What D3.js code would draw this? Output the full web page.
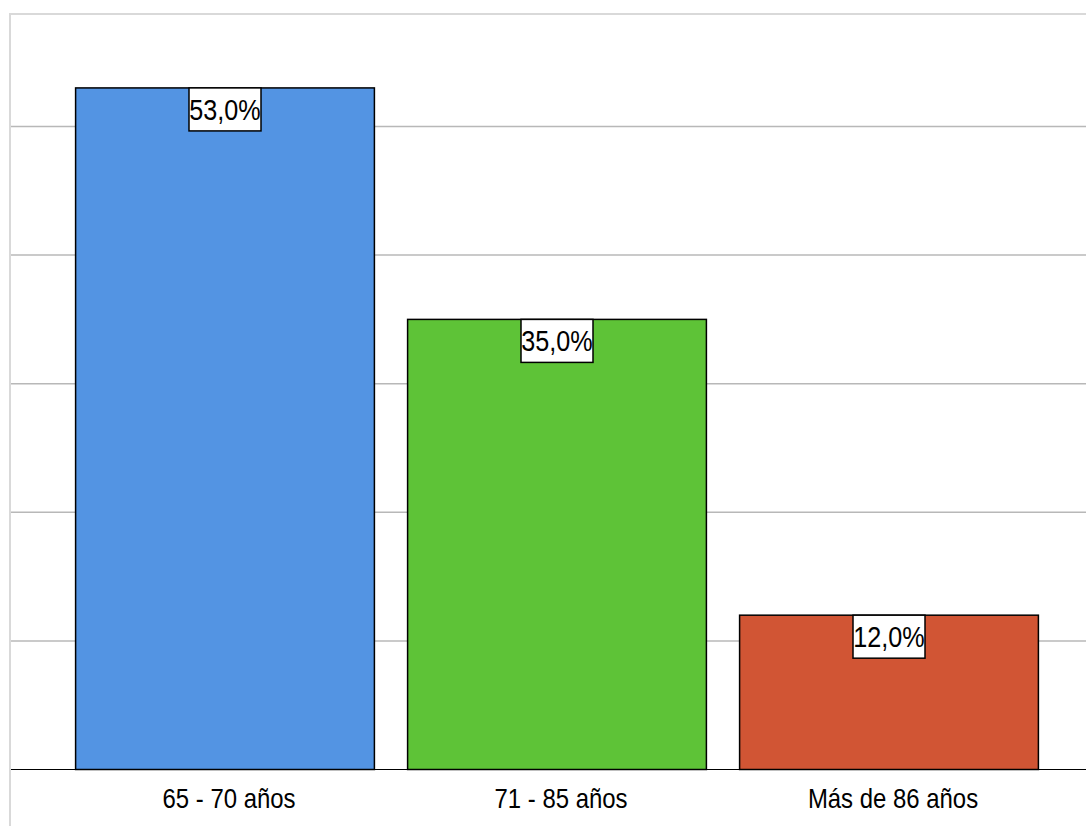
<!DOCTYPE html>
<html>
<head>
<meta charset="utf-8">
<script src="https://cdn.jsdelivr.net/npm/d3@7"></script>
<style>
  body { margin: 0; background: #fff; }
  svg { display: block; }
  text { font-family: "Liberation Sans", Arial, sans-serif; fill: #000; }
</style>
</head>
<body>
<svg></svg>
<script>
const categories = ['65 - 70 años', '71 - 85 años', 'Más de 86 años'];
const values = [53.0, 35.0, 12.0];
const colors = ['#5394e3', '#5ec337', '#d15534'];
const gridTicks = [10, 20, 30, 40, 50];

const width = 1086;
const height = 826;
const frame = { left: 10, top: 14 };
const narrow = 0.84; // no narrow font installed, squeeze horizontally

const svg = d3.select('svg')
  .attr('width', width)
  .attr('height', height);

const x = d3.scaleBand()
  .domain(categories)
  .range([59, 1055])
  .paddingInner(0.1)
  .paddingOuter(0.05);

const y = d3.scaleLinear()
  .domain([0, 50])
  .range([769.5, 126.5]);

const fmt = v => `${d3.format('.1f')(v).replace('.', ',')}%`;

// frame (left + top edges)
svg.append('path')
  .attr('d', `M${frame.left},${height} V${frame.top} H${width}`)
  .attr('fill', 'none')
  .attr('stroke', '#d9d9d9')
  .attr('stroke-width', 2);

// gridlines
svg.append('g').selectAll('line')
  .data(gridTicks)
  .enter().append('line')
    .attr('x1', frame.left + 1)
    .attr('x2', width)
    .attr('y1', d => y(d))
    .attr('y2', d => y(d))
    .attr('stroke', '#b8b8b8')
    .attr('stroke-width', 1.5);

// bars
svg.append('g').selectAll('rect')
  .data(values)
  .enter().append('rect')
    .attr('x', (d, i) => x(categories[i]))
    .attr('y', d => y(d))
    .attr('width', x.bandwidth())
    .attr('height', d => y(0) - y(d))
    .attr('fill', (d, i) => colors[i])
    .attr('stroke', '#000')
    .attr('stroke-width', 1.5);

// baseline
svg.append('line')
  .attr('x1', frame.left + 1)
  .attr('x2', width)
  .attr('y1', y(0))
  .attr('y2', y(0))
  .attr('stroke', '#000')
  .attr('stroke-width', 1.2);

// value labels
const lab = svg.append('g').selectAll('g')
  .data(values)
  .enter().append('g')
    .attr('transform', (d, i) => `translate(${x(categories[i]) + x.bandwidth() / 2},${y(d)})`);

lab.append('rect')
  .attr('x', -36)
  .attr('y', 0)
  .attr('width', 72)
  .attr('height', 43)
  .attr('fill', '#fff')
  .attr('stroke', '#000')
  .attr('stroke-width', 1.5);

lab.append('text')
  .attr('transform', `translate(0,32) scale(${narrow},1)`)
  .attr('text-anchor', 'middle')
  .style('font-size', '30px')
  .text(d => fmt(d));

// category axis labels
svg.append('g').selectAll('text')
  .data(categories)
  .enter().append('text')
    .attr('transform', d => `translate(${x(d) + x.bandwidth() / 2 + 4},808) scale(${narrow},1)`)
    .attr('text-anchor', 'middle')
    .style('font-size', '28.5px')
    .text(d => d);
</script>
</body>
</html>
